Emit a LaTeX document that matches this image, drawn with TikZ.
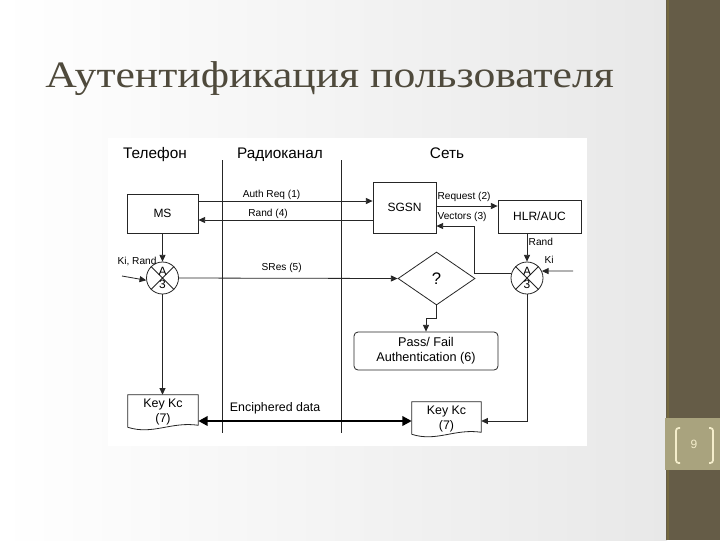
\documentclass[tikz,border=0pt]{standalone}
\usepackage{fontspec}
\setmainfont{Liberation Sans}
\newfontfamily\titlefont{Liberation Serif}
\usetikzlibrary{arrows.meta,shapes.geometric,fit,calc}
\definecolor{panel}{HTML}{655C47}
\definecolor{panelline}{HTML}{74683F}
\definecolor{numbox}{HTML}{A9A37E}
\definecolor{cream}{HTML}{F4EDCB}
\definecolor{titlec}{HTML}{4F4A3C}
\begin{document}
\begin{tikzpicture}[x=0.75pt,y=-0.75pt,
  line/.style={draw=black!85,line width=0.6pt},
  arr/.style={line,-{Triangle[length=5pt,width=4.5pt]}},
  bigarr/.style={draw=black,line width=2.2pt,{Triangle[length=7pt,width=7pt]}-{Triangle[length=7pt,width=7pt]}},
  box/.style={line,rectangle,inner sep=0pt},
  boxfont/.style={font=\fontsize{9}{10}\selectfont},
  lbl/.style={font=\fontsize{7.6}{8}\selectfont,inner sep=1pt},
  head/.style={font=\fontsize{11.5}{13}\selectfont,inner sep=0pt,anchor=base},
  a3/.style={line,circle,minimum size=24pt,inner sep=0pt},
  inc/.style={font=\fontsize{9}{9}\selectfont,inner sep=0pt}]
\useasboundingbox (0,0) rectangle (720,540);
% background
\shade[left color=white,right color=black!9] (0,0) rectangle (667,540);
\fill[panel] (666,0) rectangle (720,540);
\draw[panelline,line width=2pt] (668,0) -- (668,540);
\fill[numbox] (665,418) rectangle (720,470);
\draw[cream,line width=1.3pt,rounded corners=2pt] (680,428) -- (676,428) -- (676,463) -- (680,463);
\draw[cream,line width=1.3pt,rounded corners=2pt] (709,428) -- (713,428) -- (713,463) -- (709,463);
\node[text=cream,font=\fontsize{9}{9}\selectfont] (pnum) at (694,444) {9};
% title
\node[anchor=base west,inner sep=0pt,text=titlec,font=\titlefont\fontsize{28}{30}\selectfont] (title) at (45,87) {\scalebox{1.17}[1]{Аутентификация пользователя}};
% diagram area
\fill[white] (108,138) rectangle (587,446);
\node[head] (h1) at (155,158) {Телефон};
\node[head] (h2) at (280,158) {Радиоканал};
\node[head] (h3) at (447,158) {Сеть};
\coordinate (v1t) at (222.7,160); \coordinate (v1b) at (222.7,433);
\coordinate (v2t) at (341.7,160); \coordinate (v2b) at (341.7,433);
\draw[line] (v1t) -- (v1b);
\draw[line] (v2t) -- (v2b);
% boxes
\node[box,fit={(127,194) (198,233)},label={[boxfont]center:MS}] (ms) {};
\node[box,fit={(373,182) (436,233)},label={[boxfont]center:SGSN}] (sgsn) {};
\node[box,fit={(498,200) (581,233)},label={[boxfont]center:HLR/AUC}] (hlr) {};
% A3 circles
\node[a3] (c1) at (162.5,278) {};
\draw[line] (c1.north west) -- (c1.south east) (c1.north east) -- (c1.south west);
\node[inc] (c1a) at (162.5,271.5) {A};
\node[inc] (c1b) at (162.5,284) {3};
\node[a3] (c2) at (527,278) {};
\draw[line] (c2.north west) -- (c2.south east) (c2.north east) -- (c2.south west);
\node[inc] (c2a) at (527,271.5) {A};
\node[inc] (c2b) at (527,284) {3};
% diamond
\node[line,diamond,minimum width=57.75pt,minimum height=39.75pt,inner sep=0pt,aspect=1.45,font=\fontsize{12.5}{12}\selectfont] (dia) at (436.5,278.5) {?};
% pass/fail
\node[box,rounded corners=3pt,fit={(354,332) (498,370)}] (pass) {};
\node[font=\fontsize{9.5}{11.5}\selectfont,align=center,inner sep=0pt] (passt) at (pass.center) {Pass/ Fail\\Authentication (6)};
% documents
\node[fit={(128,395) (198,427)},inner sep=0pt] (kc1) {};
\draw[line] (kc1.south west) -- (kc1.north west) -- (kc1.north east) -- ([yshift=1.5pt]kc1.south east)
  .. controls ($(kc1.south)+(8,-6)$) and ($(kc1.south)+(-10,8)$) .. (kc1.south west);
\node[font=\fontsize{9.3}{11}\selectfont,align=center,inner sep=0pt] (kc1t) at (163,412) {Key Kc\\(7)};
\node[fit={(412,402) (481,434)},inner sep=0pt] (kc2) {};
\draw[line] (kc2.south west) -- (kc2.north west) -- (kc2.north east) -- ([yshift=1.5pt]kc2.south east)
  .. controls ($(kc2.south)+(8,-6)$) and ($(kc2.south)+(-10,8)$) .. (kc2.south west);
\node[font=\fontsize{9.3}{11}\selectfont,align=center,inner sep=0pt] (kc2t) at (446.5,419) {Key Kc\\(7)};
% connectors
\draw[arr] (ms.east |- 0,201) -- node[lbl,above,pos=0.42] {Auth Req (1)} (sgsn.west |- 0,201);
\draw[arr] (sgsn.west |- 0,220) -- node[lbl,above,pos=0.6] {Rand (4)} (ms.east |- 0,220);
\draw[arr] (sgsn.east |- 0,206) -- (hlr.west |- 0,206);
\node[lbl,anchor=west] (reql) at (436,197) {Request (2)};
\coordinate (vb) at (474,226);
\draw[arr] (c2.165) -| (vb) -- (sgsn.east |- vb);
\node[lbl,anchor=west] (vecl) at (436,217) {Vectors (3)};
\draw[arr] (c2 |- hlr.south) -- node[lbl,right,pos=0.3] {Rand} (c2.north);
\coordinate (kiin) at (573,271);
\draw[arr] (kiin) -- (c2.25);
\node[lbl] (kil) at (549,260) {Ki};
\draw[arr] (ms.south) -- (c1.north);
\coordinate (kirin) at (122,276);
\draw[arr] (kirin) -- (c1.188);
\node[lbl] (kirl) at (137,261) {Ki, Rand};
\draw[arr] (c1.east) -- node[lbl,above=3pt,pos=0.47] {SRes (5)} (dia.west);
\draw[arr] (dia.south) -- ++(0,13) -| (pass.north);
\draw[arr] (c1.south) -- (c1.south |- kc1.north);
\draw[arr] (c2.south) |- (kc2.east |- 0,421);
\draw[bigarr] (kc1.east |- 0,421) -- node[above=3pt,pos=0.36,font=\fontsize{9.3}{10}\selectfont,inner sep=1pt] {Enciphered data} (kc2.west |- 0,421);
\end{tikzpicture}
\end{document}
